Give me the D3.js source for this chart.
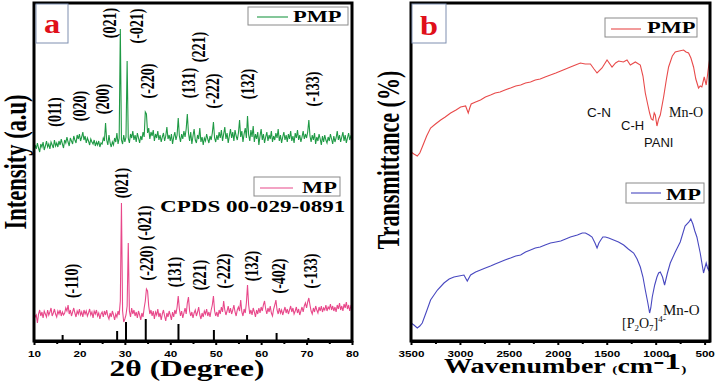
<!DOCTYPE html>
<html>
<head>
<meta charset="utf-8">
<script src="https://cdn.jsdelivr.net/npm/d3@7"></script>
<style>
  body { margin: 0; background: #fff; }
</style>
</head>
<body>
<svg id="chart" width="728" height="382"></svg>
<script>
// ---- XRD (panel a), intensity read every 0.25 deg from 10 to 80 ----
const xrdStart = 10, xrdStep = 0.25;
const pmpXrd = [
  190,196,192,198,193,189,197,194,199,191,195,200,194,197,192,199,196,193,201,195,
  198,194,200,196,202,197,193,201,198,204,199,195,203,200,197,205,201,198,206,202,
  207,200,204,209,201,205,198,203,200,196,202,199,197,201,195,199,196,200,194,198,
  197,203,200,218,201,196,206,198,194,199,196,203,199,208,197,203,312,201,197,206,
  199,204,280,203,198,207,203,210,201,206,199,208,203,198,205,201,209,204,229,227,
  208,213,202,209,205,211,200,207,203,210,201,206,199,204,208,200,205,214,202,206,
  200,207,197,204,209,201,206,223,205,199,207,202,210,204,212,227,208,200,209,197,
  205,212,201,198,206,202,213,199,204,196,203,200,207,202,198,205,201,208,219,203,
  199,206,201,209,203,211,200,207,214,202,208,198,205,212,203,209,200,211,205,201,
  208,221,204,210,199,207,213,203,225,206,200,211,204,215,199,207,202,209,196,205,
  212,201,207,198,204,209,200,206,202,210,199,205,201,208,203,212,200,206,198,204,
  209,201,206,199,207,202,210,200,205,198,208,203,211,201,206,199,204,210,202,207,
  203,209,221,205,199,206,201,208,197,204,200,207,202,196,205,199,206,201,198,204,
  200,207,202,197,205,199,203,210,201,206,199,204,209,200,206,198,203,208,201,205,
  204
];
const mpXrd = [
  29,24,26,18,27,31,25,29,23,30,27,24,31,26,29,33,25,28,32,27,
  24,30,27,31,25,29,26,28,33,30,36,27,31,25,29,33,28,24,30,27,
  32,26,29,24,31,27,30,25,28,32,26,29,23,30,27,31,25,28,22,27,
  29,24,30,26,31,25,22,28,24,30,26,21,27,24,30,26,40,138,30,19,
  22,26,35,98,30,24,33,27,31,25,29,23,30,26,21,28,24,33,40,52,
  50,35,27,31,25,30,22,29,26,32,24,28,21,27,31,25,20,28,24,30,
  26,21,29,24,31,27,34,45,32,25,30,23,28,33,27,38,44,30,25,29,
  23,28,31,25,29,34,26,22,28,24,30,27,32,25,29,24,31,36,45,30,
  25,29,24,31,27,34,29,40,31,26,30,35,28,33,27,31,36,29,25,31,
  34,30,41,29,25,32,28,38,56,36,27,31,26,33,29,24,31,27,33,28,
  34,30,36,40,32,27,33,29,35,28,25,32,36,41,31,27,33,28,31,26,
  30,34,28,32,27,31,35,29,33,27,30,34,28,32,26,30,34,29,35,38,
  33,39,43,36,30,27,33,29,35,31,28,34,30,35,29,33,31,36,30,34,
  32,37,31,35,30,34,29,36,32,38,31,35,30,37,33,39,32,36,30,35,
  33
];
// CPDS 00-029-0891 reference sticks
const cpdsAngles = [16.3, 28.3, 30.25, 34.6, 41.8, 49.6, 56.9, 63.4, 70.4];
const cpdsHeights = [6, 10, 19, 22, 17, 11, 6, 8, 3];

// hkl labels: text, 2theta, intensity position
const pmpHkl = ["(011)","(020)","(200)","(021)","(-021)","(-220)","(131)","(221)","(-222)","(132)","(-133)"];
const pmpHklAngle = [14.6, 20.1, 25.2, 26.7, 32.7, 35.1, 44.1, 46.3, 49.4, 57.1, 71.4];
const pmpHklPos = [229, 235, 242, 318, 315, 260, 258, 294, 250, 257, 252];
const mpHkl = ["(-110)","(021)","(-021)","(-220)","(131)","(221)","(-222)","(132)","(-402)","(-133)"];
const mpHklAngle = [18.4, 29.4, 34.4, 34.9, 41.0, 46.5, 51.8, 58.0, 63.9, 71.0];
const mpHklPos = [60, 158, 118, 78, 69, 66, 70, 75, 65, 70];

const angleTicks = [10, 20, 30, 40, 50, 60, 70, 80];
const angleMinor = [15, 25, 35, 45, 55, 65, 75];

// ---- FTIR (panel b) ----
const pmpWn = [3500,3470,3436,3410,3385,3340,3300,3250,3197,3150,3095,3040,2993,2942,2915,2900,2885,2840,2790,2740,2687,2640,2590,2540,2483,2430,2380,2330,2279,2230,2180,2130,2075,2020,1970,1920,1871,1820,1769,1720,1667,1630,1599,1548,1497,1446,1410,1378,1330,1293,1259,1208,1157,1130,1106,1080,1062,1045,1028,1015,1004,987,970,953,919,890,868,830,800,760,715,690,664,640,613,590,562,545,528,504,484,470,460,445];
const pmpT  = [189,187,185,188,194,205,213,217,221,224,228,231,234,235,228,233,237,239,241,244,246,248,249,251,253,255,256,258,259,261,262,264,266,268,270,272,274,276,278,277,277,272,268,273,281,274,278,280,279,281,276,279,276,265,248,236,228,222,221,228,226,215,222,226,244,262,274,285,289,290,291,289,288,283,274,262,253,255,254,264,256,266,274,284];
const mpWn = [3500,3470,3436,3410,3385,3340,3300,3230,3163,3110,3061,3010,2959,2925,2891,2840,2790,2740,2687,2640,2590,2540,2483,2430,2380,2330,2279,2230,2180,2130,2075,2020,1970,1920,1871,1800,1750,1718,1680,1650,1620,1599,1580,1561,1540,1514,1480,1430,1380,1327,1280,1225,1190,1157,1130,1106,1080,1062,1050,1035,1010,987,970,953,930,909,880,851,800,749,700,660,641,620,600,579,545,511,495,484,470,460,445];
const mpT  = [18,16,13,15,18,30,41,51,58,62,64,65,66,60,66,69,71,73,75,77,79,81,83,85,86,89,91,93,94,96,98,99,100,102,104,106,108,108,106,104,98,93,98,101,104,104,103,101,99,96,92,88,82,74,64,51,38,28,33,44,56,64,68,69,64,56,68,78,89,99,115,119,122,117,110,104,88,68,74,78,73,71,81];

const wnTicks = [3500, 3000, 2500, 2000, 1500, 1000, 500];
const wnMinor = [3250, 2750, 2250, 1750, 1250, 750];

// ---- drawing ----
const svg = d3.select("#chart");
const serif = "'Liberation Serif', 'Times New Roman', serif";
const sans = "'Liberation Sans', Arial, sans-serif";
const SX = 1.4; // the figure's lettering is horizontally stretched

const xA = d3.scaleLinear().domain([10, 80]).range([34, 352]);
const xB = d3.scaleLinear().domain([3500, 445]).range([411, 710]);
const yS = d3.scaleLinear().domain([0, 338]).range([341, 3]);

const defs = svg.append("defs");
defs.append("clipPath").attr("id", "clipA").append("rect")
  .attr("x", 34).attr("y", 3).attr("width", 318).attr("height", 338);
defs.append("clipPath").attr("id", "clipB").append("rect")
  .attr("x", 411).attr("y", 3).attr("width", 299).attr("height", 338);

function stretched(x, y, str, size, opts = {}) {
  const rot = opts.rotate ? " rotate(-90)" : "";
  return svg.append("text")
    .attr("transform", `translate(${x},${y}) scale(${opts.sx || SX},1)${rot}`)
    .attr("text-anchor", opts.anchor || "start")
    .attr("dominant-baseline", opts.baseline || "auto")
    .attr("font-family", opts.family || serif)
    .attr("font-weight", opts.weight || "bold")
    .attr("font-size", size)
    .attr("fill", opts.fill || "#000")
    .text(str);
}

// panel a curves
const xrdLine = d3.line().x(d => xA(d[0])).y(d => yS(d[1]));
const pmpPts = pmpXrd.map((v, i) => [xrdStart + i * xrdStep, v]);
const mpPts = mpXrd.map((v, i) => [xrdStart + i * xrdStep, v]);

svg.append("path").datum(pmpPts)
  .attr("clip-path", "url(#clipA)")
  .attr("d", xrdLine).attr("fill", "none")
  .attr("stroke", "#1f9a45").attr("stroke-width", 1.1);
svg.append("path").datum(mpPts)
  .attr("clip-path", "url(#clipA)")
  .attr("d", xrdLine).attr("fill", "none")
  .attr("stroke", "#e8488a").attr("stroke-width", 1.1);

svg.append("g").selectAll("line")
  .data(cpdsAngles)
  .enter().append("line")
  .attr("x1", d => xA(d)).attr("x2", d => xA(d))
  .attr("y1", yS(0)).attr("y2", (d, i) => yS(cpdsHeights[i]))
  .attr("stroke", "#000").attr("stroke-width", 2);

// panel b curves
const ftirLine = d3.line().x(d => xB(d[0])).y(d => yS(d[1]));
svg.append("path").datum(pmpWn.map((w, i) => [w, pmpT[i]]))
  .attr("clip-path", "url(#clipB)")
  .attr("d", ftirLine).attr("fill", "none")
  .attr("stroke", "#e84a4a").attr("stroke-width", 1.1);
svg.append("path").datum(mpWn.map((w, i) => [w, mpT[i]]))
  .attr("clip-path", "url(#clipB)")
  .attr("d", ftirLine).attr("fill", "none")
  .attr("stroke", "#4848c0").attr("stroke-width", 1.1);

// axes
function bottomAxis(scale, major, minor) {
  svg.append("g")
    .attr("transform", "translate(0,341)")
    .call(d3.axisBottom(scale).tickValues(minor).tickSize(3).tickSizeOuter(0).tickFormat(""))
    .call(g => g.select(".domain").remove())
    .call(g => g.selectAll("line").attr("stroke-width", 2));
  const ax = svg.append("g")
    .attr("transform", "translate(0,341)")
    .call(d3.axisBottom(scale).tickValues(major).tickSize(4).tickSizeOuter(0).tickFormat(d3.format("d")));
  ax.select(".domain").attr("stroke-width", 3);
  ax.selectAll("line").attr("stroke-width", 2);
  ax.selectAll("text")
    .attr("y", 0).attr("dy", null)
    .attr("transform", "translate(0,15.5) scale(1.3,1)")
    .attr("font-family", sans).attr("font-weight", "bold")
    .attr("font-size", 9).attr("fill", "#000");
}
bottomAxis(xA, angleTicks, angleMinor);
bottomAxis(xB, wnTicks, wnMinor);

// frames
svg.append("rect").attr("x", 34).attr("y", 3).attr("width", 318).attr("height", 338)
  .attr("fill", "none").attr("stroke", "#000").attr("stroke-width", 3);
svg.append("rect").attr("x", 411).attr("y", 3).attr("width", 299).attr("height", 338)
  .attr("fill", "none").attr("stroke", "#000").attr("stroke-width", 3);

// hkl labels
pmpHkl.forEach((t, i) => stretched(xA(pmpHklAngle[i]), yS(pmpHklPos[i]), t, 14,
  { rotate: true, anchor: "middle", baseline: "central" }));
mpHkl.forEach((t, i) => stretched(xA(mpHklAngle[i]), yS(mpHklPos[i]), t, 14,
  { rotate: true, anchor: "middle", baseline: "central" }));

// panel tags
function tag(x, y, w, h, letter, tx, ty) {
  svg.append("rect").attr("x", x).attr("y", y).attr("width", w).attr("height", h)
    .attr("fill", "#fff").attr("stroke", "#7f8fb0").attr("stroke-width", 1);
  stretched(tx, ty, letter, 27, { anchor: "middle", fill: "#e0101a", sx: 1.2 });
}
tag(36, 4, 32, 39, "a", 52, 33);
tag(412, 4, 34, 39, "b", 429, 35);

// legends
function legend(x, y, w, h, color, lx1, lx2, ly, label, tx, ty) {
  svg.append("rect").attr("x", x).attr("y", y).attr("width", w).attr("height", h)
    .attr("fill", "#fff").attr("stroke", "#8a8a8a").attr("stroke-width", 1);
  svg.append("line").attr("x1", lx1).attr("x2", lx2).attr("y1", ly).attr("y2", ly)
    .attr("stroke", color).attr("stroke-width", 1.1);
  stretched(tx, ty, label, 16);
}
legend(248, 7, 100, 18, "#1f9a45", 257, 288, 17, "PMP", 293, 22);
legend(254, 177, 86, 19, "#e8488a", 260, 293, 188, "MP", 302, 193);
legend(605, 18, 92, 19, "#e84a4a", 611, 641, 29, "PMP", 647, 33);
legend(626, 183, 78, 20, "#4848c0", 631, 661, 193, "MP", 666, 200);

stretched(160, 212, "CPDS 00-029-0891", 16.5);

// FTIR band annotations
function note(x, y, str, family, size) {
  svg.append("text").attr("x", x).attr("y", y)
    .attr("font-family", family).attr("font-size", size).attr("fill", "#111")
    .text(str);
}
note(587, 117, "C-N", sans, 13.5);
note(621, 130, "C-H", sans, 13);
note(644, 147, "PANI", sans, 13);
note(669, 117, "Mn-O", serif, 14);
note(663, 315, "Mn-O", serif, 15);
const p2o7 = svg.append("text").attr("x", 622).attr("y", 328)
  .attr("font-family", serif).attr("font-size", 14).attr("fill", "#111");
p2o7.append("tspan").text("[P");
p2o7.append("tspan").attr("font-size", 9).attr("dy", 3).text("2");
p2o7.append("tspan").attr("dy", -3).text("O");
p2o7.append("tspan").attr("font-size", 9).attr("dy", 3).text("7");
p2o7.append("tspan").attr("dy", -3).text("]");
p2o7.append("tspan").attr("font-size", 9).attr("dy", -6).text("4-");

// axis titles
stretched(187, 376, "2θ (Degree)", 22.5, { anchor: "middle" });
stretched(16, 162, "Intensity (a.u)", 22.5, { rotate: true, anchor: "middle", baseline: "central" });
stretched(389, 160, "Transmittance (%)", 22, { rotate: true, anchor: "middle", baseline: "central" });

const wt = svg.append("text")
  .attr("transform", `translate(444,373) scale(${SX},1)`)
  .attr("font-family", serif).attr("font-weight", "bold").attr("font-size", 20).attr("fill", "#000");
wt.append("tspan").text("Wavenumber ");
wt.append("tspan").attr("font-size", 11).text("(");
wt.append("tspan").text("cm");
wt.append("tspan").attr("font-size", 24).attr("dy", -4).text("-1");
wt.append("tspan").attr("font-size", 11).attr("dy", 4).text(")");
</script>
</body>
</html>
